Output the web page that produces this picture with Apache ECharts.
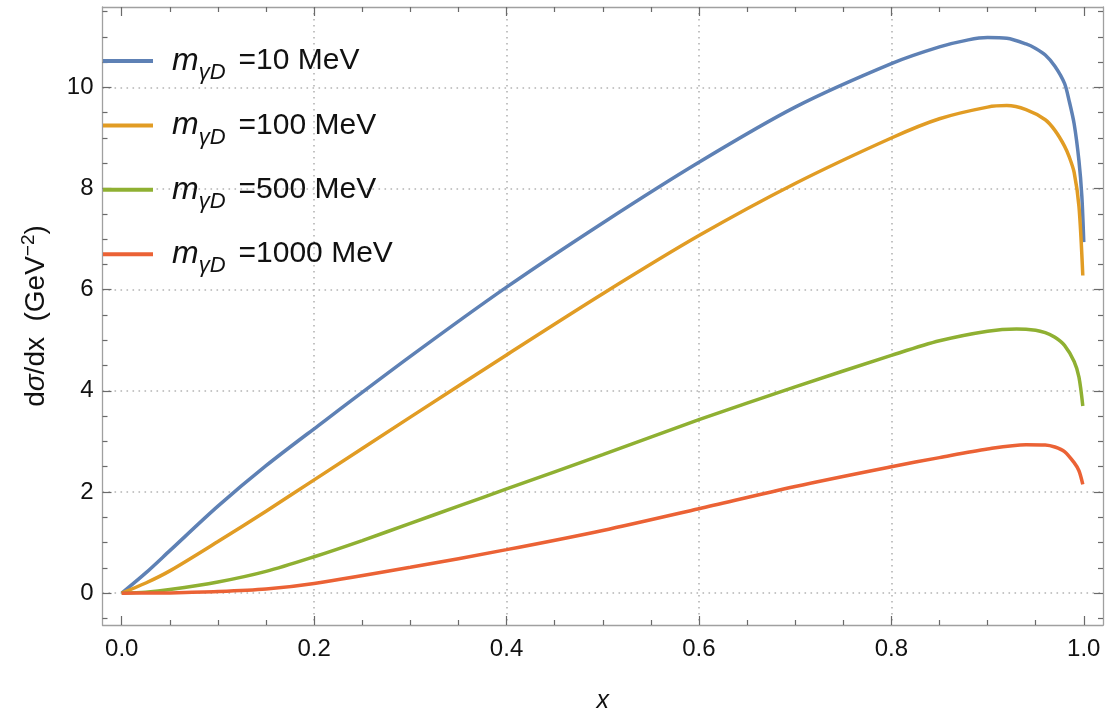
<!DOCTYPE html>
<html>
<head>
<meta charset="utf-8">
<script src="https://cdn.jsdelivr.net/npm/echarts@6/dist/echarts.min.js"></script>
<style>html,body{margin:0;padding:0;background:#fff;}#c{width:1107px;height:713px;}</style>
</head>
<body>
<div id="c"></div>
<script>
// ---- data ----
const masses = [10, 100, 500, 1000];            // MeV
const seriesColors = ['#5E81B5', '#E19C24', '#8FB032', '#EB6235'];

const blueX = [0, 0.025, 0.05, 0.1, 0.15, 0.2, 0.3, 0.4, 0.5, 0.6, 0.7, 0.8, 0.85, 0.88, 0.9, 0.92, 0.94, 0.95, 0.96, 0.97, 0.98, 0.985, 0.99, 0.995, 0.998, 1.0];
const blueY = [0, 0.40, 0.84, 1.72, 2.52, 3.25, 4.68, 6.05, 7.32, 8.52, 9.61, 10.47, 10.80, 10.94, 10.985, 10.97, 10.86, 10.77, 10.64, 10.42, 10.08, 9.72, 9.28, 8.55, 7.85, 6.94];

const orangeX = [0, 0.025, 0.05, 0.1, 0.15, 0.2, 0.3, 0.4, 0.5, 0.6, 0.7, 0.8, 0.85, 0.9, 0.92, 0.94, 0.96, 0.97, 0.98, 0.985, 0.99, 0.995, 0.999];
const orangeY = [0, 0.20, 0.44, 1.02, 1.62, 2.24, 3.48, 4.71, 5.92, 7.07, 8.10, 9.00, 9.38, 9.61, 9.64, 9.56, 9.36, 9.15, 8.84, 8.62, 8.32, 7.65, 6.28];

const greenX = [0, 0.025, 0.05, 0.1, 0.15, 0.2, 0.25, 0.3, 0.35, 0.4, 0.5, 0.6, 0.7, 0.8, 0.85, 0.9, 0.93, 0.95, 0.96, 0.97, 0.98, 0.99, 0.995, 0.999];
const greenY = [0, 0.02, 0.07, 0.22, 0.43, 0.72, 1.04, 1.38, 1.72, 2.06, 2.74, 3.43, 4.08, 4.70, 4.99, 5.18, 5.225, 5.20, 5.15, 5.06, 4.90, 4.58, 4.27, 3.70];

const redX = [0, 0.025, 0.05, 0.1, 0.15, 0.2, 0.3, 0.4, 0.5, 0.6, 0.7, 0.8, 0.85, 0.9, 0.94, 0.96, 0.97, 0.98, 0.99, 0.995, 0.999];
const redY = [0, 0.001, 0.005, 0.03, 0.08, 0.19, 0.51, 0.86, 1.24, 1.67, 2.11, 2.50, 2.68, 2.85, 2.935, 2.93, 2.89, 2.80, 2.58, 2.42, 2.15];

// ---- ticks ----
const xMajorTicks = [0, 0.2, 0.4, 0.6, 0.8, 1.0];
const xMinorTicks = [0.05, 0.1, 0.15, 0.25, 0.3, 0.35, 0.45, 0.5, 0.55, 0.65, 0.7, 0.75, 0.85, 0.9, 0.95];
const xGridValues = [0.2, 0.4, 0.6, 0.8];
const yMajorTicks = [0, 2, 4, 6, 8, 10];
const yMinorTicks = [-0.5, 0.5, 1, 1.5, 2.5, 3, 3.5, 4.5, 5, 5.5, 6.5, 7, 7.5, 8.5, 9, 9.5, 10.5, 11, 11.5];
const yGridValues = [0, 2, 4, 6, 8, 10];

const xRange = [-0.02, 1.02];
const yRange = [-0.63, 11.59];

const FONT = '"Liberation Sans", Arial, Helvetica, sans-serif';
const frameColor = '#a0a0a0';
const tickColor = '#6a6a6a';
const gridColor = '#b4b4b4';

function pairs(xs, ys) { return xs.map((x, i) => [x, ys[i]]); }
const allX = [blueX, orangeX, greenX, redX];
const allY = [blueY, orangeY, greenY, redY];

function hiddenLine() { return { show: false, onZero: false }; }
function frameLine() { return { show: true, onZero: false, lineStyle: { color: frameColor, width: 1.3 } }; }
function tick(vals, len) { return { show: true, inside: true, length: len, customValues: vals.slice(), lineStyle: { color: tickColor, width: 1.2 } }; }

function axis(range, position, opts) {
  return Object.assign({
    type: 'value', min: range[0], max: range[1], position: position,
    axisLine: hiddenLine(), axisTick: { show: false }, axisLabel: { show: false },
    splitLine: { show: false }
  }, opts);
}

const xAxes = [
  axis(xRange, 'bottom', {
    axisLine: frameLine(),
    axisTick: tick(xMajorTicks, 9),
    axisLabel: { show: true, customValues: xMajorTicks.slice(), margin: 12, fontSize: 24, color: '#111', fontFamily: FONT,
      formatter: v => v.toFixed(1) },
    name: 'x', nameLocation: 'middle', nameGap: 64,
    nameTextStyle: { fontSize: 25, fontStyle: 'italic', color: '#111', fontFamily: FONT }
  }),
  axis(xRange, 'bottom', { axisTick: tick(xMinorTicks, 5) }),
  axis(xRange, 'top', { axisLine: frameLine(), axisTick: tick(xMajorTicks, 9) }),
  axis(xRange, 'top', { axisTick: tick(xMinorTicks, 5) }),
  axis(xRange, 'bottom', { axisTick: { show: false, customValues: xGridValues.slice() },
    splitLine: { show: true, lineStyle: { color: gridColor, width: 1.6, type: [1.6, 4.4] } } })
];

const yAxes = [
  axis(yRange, 'left', {
    axisLine: frameLine(),
    axisTick: tick(yMajorTicks, 9),
    axisLabel: { show: true, customValues: yMajorTicks.slice(), margin: 9, fontSize: 24, color: '#111', fontFamily: FONT },
    name: '{n|d}{i|σ}{n|/dx  (GeV}{sup|−2}{n|)}', nameLocation: 'middle', nameGap: 49,
    nameTextStyle: { color: '#111', fontFamily: FONT,
      rich: {
        n: { fontSize: 28, lineHeight: 34, fontFamily: FONT, color: '#111', verticalAlign: 'middle' },
        i: { fontSize: 28, lineHeight: 34, fontStyle: 'italic', fontFamily: FONT, color: '#111', verticalAlign: 'middle' },
        sup: { fontSize: 19, lineHeight: 19, fontFamily: FONT, color: '#111', verticalAlign: 'top' }
      } }
  }),
  axis(yRange, 'left', { axisTick: tick(yMinorTicks, 5) }),
  axis(yRange, 'right', { axisLine: frameLine(), axisTick: tick(yMajorTicks, 9) }),
  axis(yRange, 'right', { axisTick: tick(yMinorTicks, 5) }),
  axis(yRange, 'left', { axisTick: { show: false, customValues: yGridValues.slice() },
    splitLine: { show: true, lineStyle: { color: gridColor, width: 1.6, type: [1.6, 4.4] } } })
];

const series = masses.map((m, k) => ({
  name: m + ' MeV',
  type: 'line',
  xAxisIndex: 0, yAxisIndex: 0,
  data: pairs(allX[k], allY[k]),
  showSymbol: false, symbol: 'none',
  smooth: 0.3,
  lineStyle: { color: seriesColors[k], width: 3.5 },
  itemStyle: { color: seriesColors[k] }
}));

const option = {
  animation: false,
  backgroundColor: '#fff',
  grid: { left: 102.5, right: 4, top: 7, bottom: 88, containLabel: false, outerBoundsMode: 'none' },
  legend: {
    orient: 'vertical', left: 103, top: 45, padding: 0, itemGap: 25.4,
    icon: 'rect', itemWidth: 50, itemHeight: 4,
    data: series.map(s => s.name),
    formatter: name => '{m|m}{s|γD}{t|=' + name + '}',
    textStyle: {
      color: '#111', fontFamily: FONT,
      rich: {
        m: { fontSize: 32, lineHeight: 46, fontStyle: 'italic', fontFamily: FONT, color: '#111', verticalAlign: 'middle', padding: [0, 0, 0, 14] },
        s: { fontSize: 22, lineHeight: 22, fontStyle: 'italic', fontFamily: FONT, color: '#111', verticalAlign: 'bottom' },
        t: { fontSize: 30, lineHeight: 46, fontFamily: FONT, color: '#111', verticalAlign: 'middle', padding: [0, 0, 0, 13] }
      }
    }
  },
  xAxis: xAxes,
  yAxis: yAxes,
  series: series
};

const chart = echarts.init(document.getElementById('c'), null, { renderer: 'canvas' });
chart.setOption(option);
</script>
</body>
</html>
